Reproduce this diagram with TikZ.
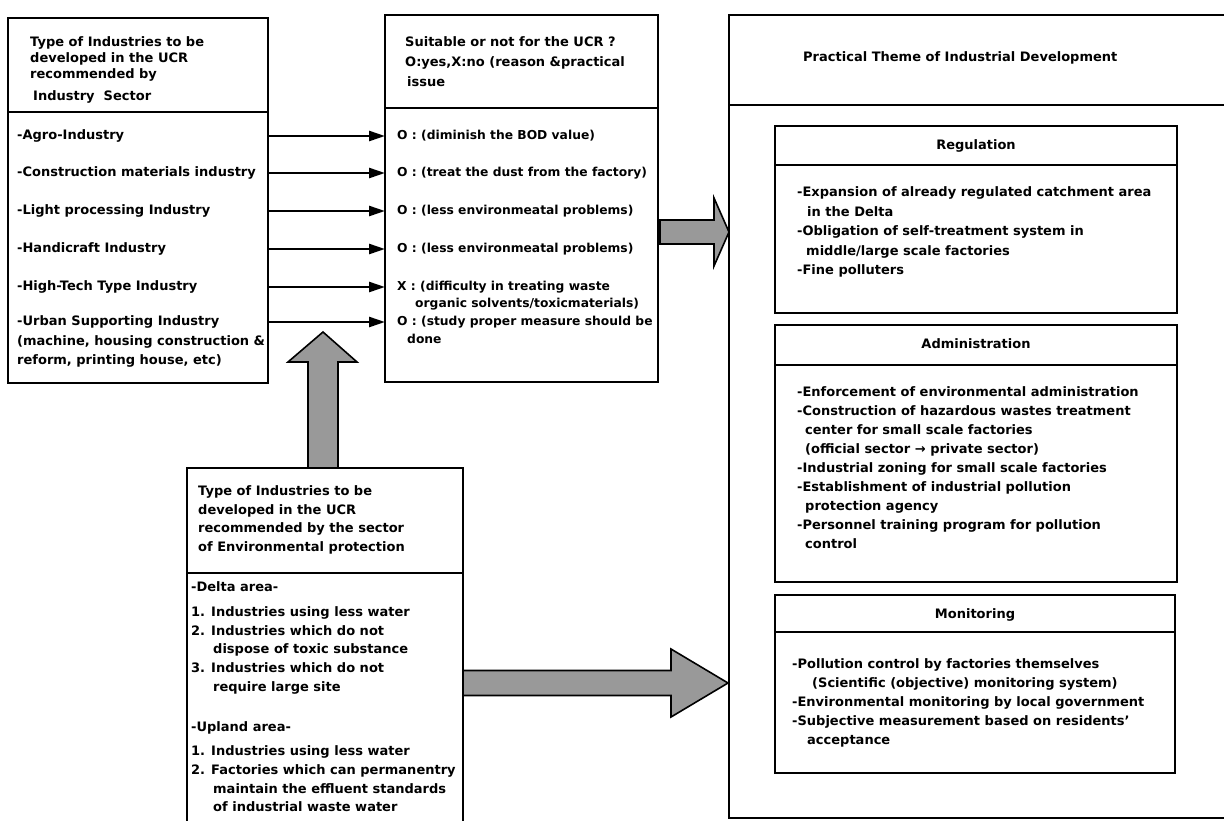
\documentclass[tikz,border=0pt]{standalone}
\usepackage{fontspec}
\setmainfont{DejaVu Sans}
\usetikzlibrary{arrows.meta,calc}
\newcommand\fsz[1]{\fontsize{13}{#1}\selectfont\bfseries}
\newcommand\msz{\fontsize{12.3}{19}\selectfont\bfseries}
\newcommand\fl{\rule{0pt}{11pt}}
\begin{document}
\begin{tikzpicture}[x=1pt,y=-1pt,
  box/.style={draw, line width=1.6pt, inner sep=0pt, outer sep=0pt, anchor=north west},
  txt/.style={inner sep=0pt, anchor=west, text height=10pt, text depth=3pt, font=\fsz{19}},
  mtxt/.style={txt, font=\msz},
  blk/.style={inner sep=0pt, anchor=north west, align=left, font=\fsz{#1}},
  blk/.default=19,
  arr/.style={line width=2.5pt, -{Triangle[length=16pt,width=10pt]}},
  fat/.style={draw, line width=1.6pt, fill=black!40, line join=miter},
  div/.style={line width=1.6pt}]
\useasboundingbox (0,0) rectangle (1224,820);
\clip (0,0) rectangle (1224,820);
\fill[white] (0,0) rectangle (1224,820);

% boxes
\node[box, minimum width=260pt, minimum height=365pt] (lb) at (8,18) {};
\node[box, minimum width=273pt, minimum height=367pt] (mb) at (385,15) {};
\node[box, minimum width=276pt, minimum height=380pt] (bb) at (187,468) {};
\node[box, minimum width=540pt, minimum height=803pt] (rb) at (729,15) {};
\node[box, minimum width=402pt, minimum height=187pt] (reg) at (775,126) {};
\node[box, minimum width=402pt, minimum height=257pt] (adm) at (775,325) {};
\node[box, minimum width=400pt, minimum height=178pt] (mon) at (775,595) {};

% dividers
\draw[div] ([yshift=-94pt]lb.north west) -- ([yshift=-94pt]lb.north east);
\draw[div] ([yshift=-93pt]mb.north west) -- ([yshift=-93pt]mb.north east);
\draw[div] ([yshift=-105pt]bb.north west) -- ([yshift=-105pt]bb.north east);
\draw[div] ([yshift=-90pt]rb.north west) -- ([yshift=-90pt]rb.north east);
\draw[div] ([yshift=-39pt]reg.north west) -- ([yshift=-39pt]reg.north east);
\draw[div] ([yshift=-40pt]adm.north west) -- ([yshift=-40pt]adm.north east);
\draw[div] ([yshift=-37pt]mon.north west) -- ([yshift=-37pt]mon.north east);

% left box texts
\node[blk=16] (lh) at (30,35.5) {\fl Type of Industries to be\\developed in the UCR\\recommended by\\[6pt]\hspace*{3pt}Industry~~Sector};
\node[txt] (a1) at (17,136) {-Agro-Industry};
\node[txt] (a2) at (17,173) {-Construction materials industry};
\node[txt] (a3) at (17,211) {-Light processing Industry};
\node[txt] (a4) at (17,249) {-Handicraft Industry};
\node[txt] (a5) at (17,287) {-High-Tech Type Industry};
\node[blk=19.5] (a6) at (17,314.5) {\fl -Urban Supporting Industry\\(machine, housing construction \&\\reform, printing house, etc)};

% middle box texts
\node[blk=19.5] (mh) at (405,35.5) {\fl Suitable or not for the UCR ?\\O:yes,X:no (reason \&practical\\[1pt]\hspace*{2pt}issue};
\node[mtxt] (b1) at (397,136) {O : (diminish the BOD value)};
\node[mtxt] (b2) at (397,173) {O : (treat the dust from the factory)};
\node[mtxt] (b3) at (397,211) {O : (less environmeatal problems)};
\node[mtxt] (b4) at (397,249) {O : (less environmeatal problems)};
\node[mtxt] (b5) at (397,287) {X : (difficulty in treating waste};
\node[mtxt] (b5c) at (415,304) {organic solvents/toxicmaterials)};
\node[mtxt] (b6) at (397,322) {O : (study proper measure should be};
\node[mtxt] (b6c) at (407,340) {done};

% thin arrows
\foreach \i in {1,...,6}
  \draw[arr] (lb.east |- b\i.west) -- (mb.west |- b\i.west);

% right box texts
\node[txt] (rt) at (803,58) {Practical Theme of Industrial Development};
\node[txt, anchor=center] (regt) at ([yshift=-20pt]reg.north) {Regulation};
\node[blk=19.5] (regl) at (797,185.5) {\fl -Expansion of already regulated catchment area\\\hspace*{10pt}in the Delta\\-Obligation of self-treatment system in\\\hspace*{9pt}middle/large scale factories\\-Fine polluters};
\node[txt, anchor=center] (admt) at ([yshift=-20pt]adm.north) {Administration};
\node[blk=19] (adml) at (797,385.5) {\fl -Enforcement of environmental administration\\-Construction of hazardous wastes treatment\\\hspace*{8pt}center for small scale factories\\\hspace*{8pt}(official sector → private sector)\\-Industrial zoning for small scale factories\\-Establishment of industrial pollution\\\hspace*{8pt}protection agency\\-Personnel training program for pollution\\\hspace*{8pt}control};
\node[txt, anchor=center] (mont) at ([yshift=-20pt]mon.north) {Monitoring};
\node[blk=19] (monl) at (792,657.5) {\fl -Pollution control by factories themselves\\\hspace*{20pt}(Scientific (objective) monitoring system)\\-Environmental monitoring by local government\\-Subjective measurement based on residents'\\\hspace*{15pt}acceptance};

% bottom box texts
\node[blk=18.5] (bh) at (198,484.5) {\fl Type of Industries to be\\developed in the UCR\\recommended by the sector\\of Environmental protection};
\node[blk=18.7] (bl) at (191,580.5) {\fl -Delta area-\\[6pt]1. Industries using less water\\2. Industries which do not\\\hspace*{22pt}dispose of toxic substance\\3. Industries which do not\\\hspace*{22pt}require large site\\[21.8pt]-Upland area-\\[5.3pt]1. Industries using less water\\2. Factories which can permanentry\\\hspace*{22pt}maintain the effluent standards\\\hspace*{22pt}of industrial waste water};

% fat arrows
\coordinate (t1) at (729,232);
\filldraw[fat] ($(mb.east |- t1)+(2,-12)$) -- ($(t1)+(-15,-12)$) -- ($(t1)+(-15,-34)$) -- (t1) -- ($(t1)+(-15,34)$) -- ($(t1)+(-15,12)$) -- ($(mb.east |- t1)+(2,12)$) -- cycle;
\coordinate (t2) at (728,683);
\filldraw[fat] ($(bb.east |- t2)+(0,-12.5)$) -- ($(t2)+(-57,-12.5)$) -- ($(t2)+(-57,-34)$) -- (t2) -- ($(t2)+(-57,34)$) -- ($(t2)+(-57,12.5)$) -- ($(bb.east |- t2)+(0,12.5)$) -- cycle;
\coordinate (ub) at ($(bb.north)+(-2,0)$);
\filldraw[fat] ($(ub)+(-15,0)$) -- ($(ub)+(-15,-106)$) -- ($(ub)+(-35,-106)$) -- ($(ub)+(0,-136)$) -- ($(ub)+(34,-106)$) -- ($(ub)+(15,-106)$) -- ($(ub)+(15,0)$) -- cycle;
\end{tikzpicture}
\end{document}
